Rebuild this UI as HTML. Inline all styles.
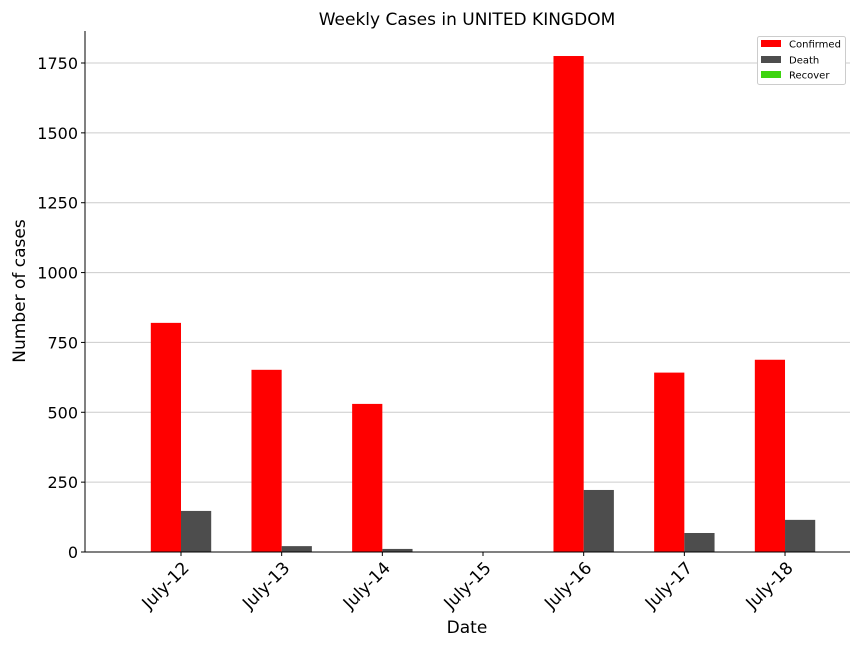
<!DOCTYPE html>
<html><head><meta charset="utf-8"><style>
html,body{margin:0;padding:0;background:#fff;}
svg{display:block;font-family:"DejaVu Sans","Liberation Sans",sans-serif;}
</style></head><body>
<svg id="chart" width="864" height="648">
<text x="467" y="25" text-anchor="middle" font-size="17" fill="#000">Weekly Cases in UNITED KINGDOM</text>
<text x="467" y="633" text-anchor="middle" font-size="17">Date</text>
<text transform="translate(25,291) rotate(-90)" text-anchor="middle" font-size="17">Number of cases</text>
<g id="grid"></g><g id="bars"></g><g id="axes"></g>
<g>
<rect x="757.5" y="36.5" width="88" height="48" rx="2" fill="#fff" stroke="#ccc"/>
<rect x="761" y="40" width="20" height="7" fill="#ff0000"/>
<text x="789" y="47.5" font-size="10">Confirmed</text>
<rect x="761" y="56" width="20" height="7" fill="#4d4d4d"/>
<text x="789" y="63.5" font-size="10">Death</text>
<rect x="761" y="71" width="20" height="7" fill="#3dd40f"/>
<text x="789" y="78.5" font-size="10">Recover</text>
</g>
</svg>
<script>
const categories=["July-12","July-13","July-14","July-15","July-16","July-17","July-18"];
const confirmed=[820,652,530,0,1775,642,688];
const deaths=[147,21,11,0,222,68,115];
const recovered=[0,0,0,0,0,0,0];
const yTicks=[0,250,500,750,1000,1250,1500,1750];
const NS="http://www.w3.org/2000/svg";
const L=85,R=850,T=31,B=552;
function y(v){return B-v*(489/1750);}
function xc(i){return 181+i*100.67;}
function mk(tag,attrs,parent){const e=document.createElementNS(NS,tag);for(const k in attrs)e.setAttribute(k,attrs[k]);parent.appendChild(e);return e;}
const grid=document.getElementById('grid'),bars=document.getElementById('bars'),axes=document.getElementById('axes');
yTicks.forEach(t=>{
 if(t>0){const g=mk('line',{x1:L,x2:R,y1:y(t),y2:y(t),stroke:'#ccc','stroke-width':1},grid);
 
 }
 mk('line',{x1:L-4,x2:L,y1:y(t),y2:y(t),stroke:'#000'},axes);
 const tx=mk('text',{x:L-7,y:y(t)+6,'text-anchor':'end','font-size':16},axes);tx.textContent=t;
 
 
});
const w=30.2;
categories.forEach((c,i)=>{
 const cx=xc(i);
 const b1=mk('rect',{x:cx-w,y:y(confirmed[i]),width:w,height:B-y(confirmed[i]),fill:'#ff0000'},bars);
 
 
 const b2=mk('rect',{x:cx,y:y(deaths[i]),width:w,height:B-y(deaths[i]),fill:'#4d4d4d'},bars);
 
 
 const b3=mk('rect',{x:cx+w,y:y(recovered[i]),width:w,height:B-y(recovered[i]),fill:'#3dd40f'},bars);
 
 
 mk('line',{x1:cx,x2:cx,y1:B,y2:B+4,stroke:'#000'},axes);
 const t=mk('text',{'text-anchor':'end','font-size':17,transform:`translate(${cx+9},${B+17}) rotate(-45)`},axes);
 t.textContent=c;
 
 
});
mk('line',{x1:L,x2:L,y1:T,y2:B,stroke:'#000','stroke-width':1},axes);
mk('line',{x1:L,x2:R,y1:B,y2:B,stroke:'#000','stroke-width':1},axes);
</script>
</body></html>
